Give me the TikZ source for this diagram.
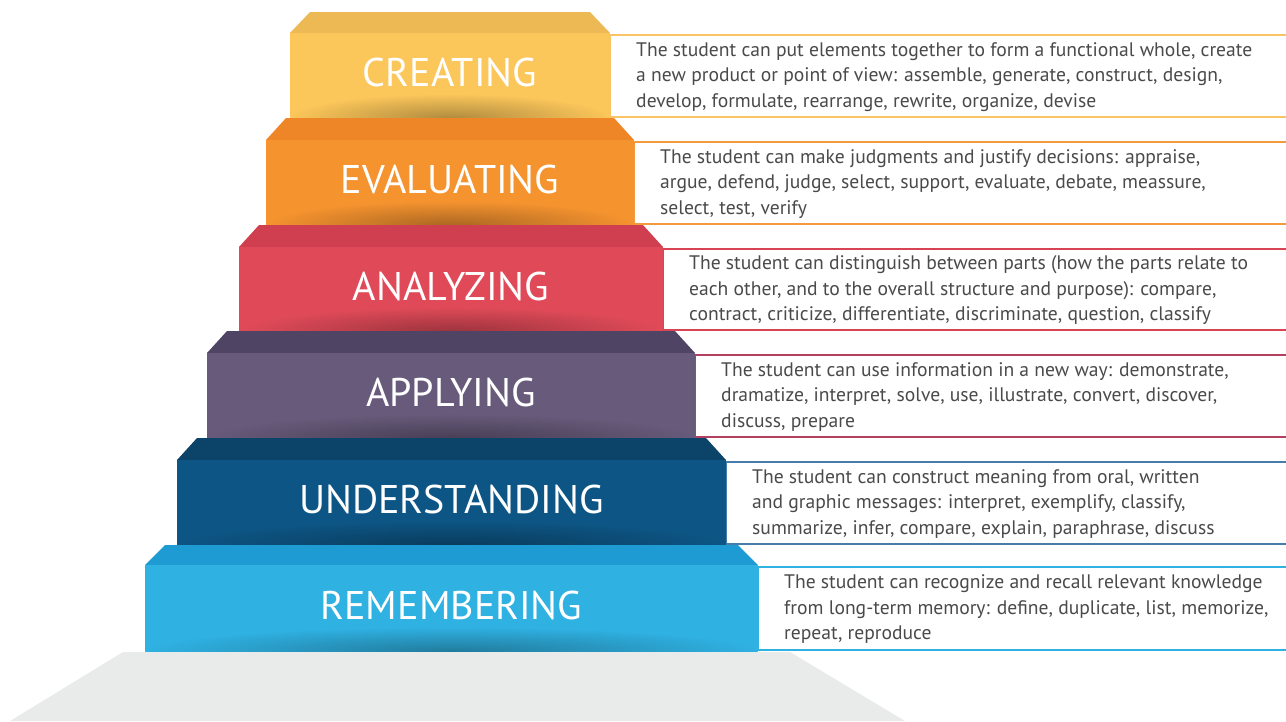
\documentclass[tikz,border=0pt]{standalone}
\usepackage{fontspec}
\setmainfont{PT Sans}
\definecolor{basegrey}{HTML}{E9EBEB}
\definecolor{textgrey}{HTML}{4A4A4A}
\definecolor{creating}{HTML}{FBC65A}
\definecolor{creatingtop}{HTML}{EDB955}
\definecolor{creatingbox}{HTML}{F9C463}
\definecolor{evaluating}{HTML}{F5932F}
\definecolor{evaluatingtop}{HTML}{EE8627}
\definecolor{evaluatingbox}{HTML}{F39A3D}
\definecolor{analyzing}{HTML}{E04A58}
\definecolor{analyzingtop}{HTML}{CF3F4F}
\definecolor{analyzingbox}{HTML}{D94455}
\definecolor{applying}{HTML}{675A7A}
\definecolor{applyingtop}{HTML}{4F4463}
\definecolor{applyingbox}{HTML}{B2405E}
\definecolor{understanding}{HTML}{0D5584}
\definecolor{understandingtop}{HTML}{0B4468}
\definecolor{understandingbox}{HTML}{467DAA}
\definecolor{remembering}{HTML}{2FB1E2}
\definecolor{rememberingtop}{HTML}{1E9BD2}
\definecolor{rememberingbox}{HTML}{2FB1E2}
\newcommand\creatingtext{The student can put elements together to form a functional whole, create\\a new product or point of view: assemble, generate, construct, design,\\develop, formulate, rearrange, rewrite, organize, devise}
\newcommand\evaluatingtext{The student can make judgments and justify decisions: appraise,\\argue, defend, judge, select, support, evaluate, debate, meassure,\\select, test, verify}
\newcommand\analyzingtext{The student can distinguish between parts (how the parts relate to\\each other, and to the overall structure and purpose): compare,\\contract, criticize, differentiate, discriminate, question, classify}
\newcommand\applyingtext{The student can use information in a new way: demonstrate,\\dramatize, interpret, solve, use, illustrate, convert, discover,\\discuss, prepare}
\newcommand\understandingtext{The student can construct meaning from oral, written\\and graphic messages: interpret, exemplify, classify,\\summarize, infer, compare, explain, paraphrase, discuss}
\newcommand\rememberingtext{The student can recognize and recall relevant knowledge\\from long-term memory: define, duplicate, list, memorize,\\repeat, reproduce}
\begin{document}
\begin{tikzpicture}[x=1pt,y=-1pt,
	steplabel/.style={text=white,font=\fontsize{40}{40}\selectfont},
	desc/.style={anchor=west,align=left,text=textgrey,inner sep=0pt,font=\fontsize{19.6}{25.5}\selectfont}]
	\useasboundingbox (0,0) rectangle (1286,721);
	\fill [basegrey] (123,652) -- (790,652) -- (905,721) -- (10,721) -- cycle;
	\foreach \name/\lbl/\xl/\xr/\yt/\yf/\yb in {creating/CREATING/290/610/12/33/118,
		evaluating/EVALUATING/266/634/118/140/225,
		analyzing/ANALYZING/239/663/225/247/331,
		applying/APPLYING/207/695/331/353/438,
		understanding/UNDERSTANDING/177/726/438/460/545,
		remembering/REMEMBERING/145/758/545/565/651}
	{
		\draw [\name box,line width=1.5pt,fill=white] (\xr,\yf+2) rectangle (1300,\yb-1);
		\fill [\name top] (\xl+20,\yt) -- (\xr-20,\yt) -- (\xr,\yf) -- (\xl,\yf) -- cycle;
		\fill [\name] (\xl,\yf) rectangle (\xr,\yb);
		\begin{scope}
			\clip (\xl,\yf) rectangle (\xr,\yb);
			\shade [inner color=\name!70!black,outer color=\name] ({(\xl+\xr)/2},\yb) ellipse [x radius={(\xr-\xl)/2},y radius=24];
		\end{scope}
		\node [steplabel] (\name) at ({(\xl+\xr)/2},{(\yf+\yb)/2-3}) {\lbl};
		\node [desc] (\name txt) at (\xr+26,{(\yf+\yb)/2+1.5}) {\csname\name text\endcsname};
	}
\end{tikzpicture}
\end{document}
